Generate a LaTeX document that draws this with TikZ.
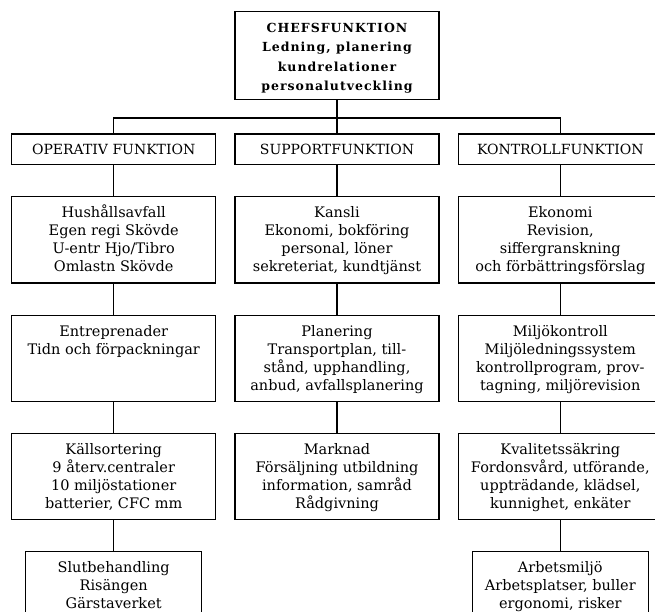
\documentclass[tikz,border=0pt]{standalone}
\usepackage{fontspec}
\setmainfont{DejaVu Serif}
\newfontfamily\cheffont{DejaVu Serif}[LetterSpace=8]
\usetikzlibrary{positioning}

\newcommand{\unittext}[2][200pt]{\parbox[c][86pt][t]{#1}{\centering\rule{0pt}{21pt}#2}}

\begin{document}
\begin{tikzpicture}
        [x=1pt, y=1pt,
         node distance=31pt,
         every node/.style={font=\fontsize{14.5}{18}\selectfont},
         unit/.style={draw, line width=1.3pt, minimum width=204pt, inner sep=0pt},
         head/.style={unit, minimum height=30.5pt, font=\fontsize{14}{16}\selectfont},
         endunit/.style={unit, minimum width=176pt},
         link/.style={line width=1.3pt}]

        \useasboundingbox (0,0) rectangle (655,-612);

        \node[unit] (chef) at (337,-55.5)
                {\parbox[c][87.5pt][t]{200pt}{\centering\cheffont\bfseries
                 \fontsize{12.5}{19.5}\selectfont\rule{0pt}{20.5pt}CHEFSFUNKTION\\
                 Ledning, planering\\ kundrelationer\\ personalutveckling}};
        \coordinate[below=18pt of chef.south] (bus);

        \node[head] (support) [below=33.5pt of chef] {SUPPORTFUNKTION};
        \node[head] (operativ) [left=18pt of support] {OPERATIV FUNKTION};
        \node[head] (kontroll) [right=18pt of support] {KONTROLLFUNKTION};

        % operativ funktion
        \node[unit] (hushall) [below=of operativ]
                {\unittext{Hushållsavfall\\ Egen regi Skövde\\ U-entr Hjo/Tibro\\ Omlastn Skövde}};
        \node[unit] (entrepr) [below=of hushall]
                {\unittext{Entreprenader\\ Tidn och förpackningar}};
        \node[unit] (kallsort) [below=of entrepr]
                {\unittext{Källsortering\\ 9 återv.centraler\\ 10 miljöstationer\\ batterier, CFC mm}};
        \node[endunit] (slutbeh) [below=of kallsort]
                {\unittext[172pt]{Slutbehandling\\ Risängen\\ Gärstaverket}};

        % supportfunktion
        \node[unit] (kansli) [below=of support]
                {\unittext{Kansli\\ Ekonomi, bokföring\\ personal, löner\\ sekreteriat,\ kundtjänst}};
        \node[unit] (planering) [below=of kansli]
                {\unittext{Planering\\ Transportplan, till-\\ stånd, upphandling,\\ anbud, avfallsplanering}};
        \node[unit] (marknad) [below=of planering]
                {\unittext{Marknad\\ Försäljning utbildning\\ information, samråd\\ Rådgivning}};

        % kontrollfunktion
        \node[unit] (ekonomi) [below=of kontroll]
                {\unittext{Ekonomi\\ Revision,\\ siffergranskning\\ och förbättringsförslag}};
        \node[unit] (miljo) [below=of ekonomi]
                {\unittext{Miljökontroll\\ Miljöledningssystem\\ kontrollprogram, prov-\\ tagning, miljörevision}};
        \node[unit] (kvalitet) [below=of miljo]
                {\unittext{Kvalitetssäkring\\ Fordonsvård, utförande,\\ uppträdande, klädsel,\\ kunnighet, enkäter}};
        \node[endunit] (arbmiljo) [below=of kvalitet]
                {\unittext[172pt]{Arbetsmiljö\\ Arbetsplatser, buller\\ ergonomi, risker}};

        \draw[link] (chef) -- (support);
        \draw[link] (operativ.north) |- (bus) -| (kontroll.north);
        \foreach \a/\b in {operativ/hushall, hushall/entrepr, entrepr/kallsort, kallsort/slutbeh,
                           support/kansli, kansli/planering, planering/marknad,
                           kontroll/ekonomi, ekonomi/miljo, miljo/kvalitet, kvalitet/arbmiljo}
                \draw[link] (\a) -- (\b);
\end{tikzpicture}
\end{document}
